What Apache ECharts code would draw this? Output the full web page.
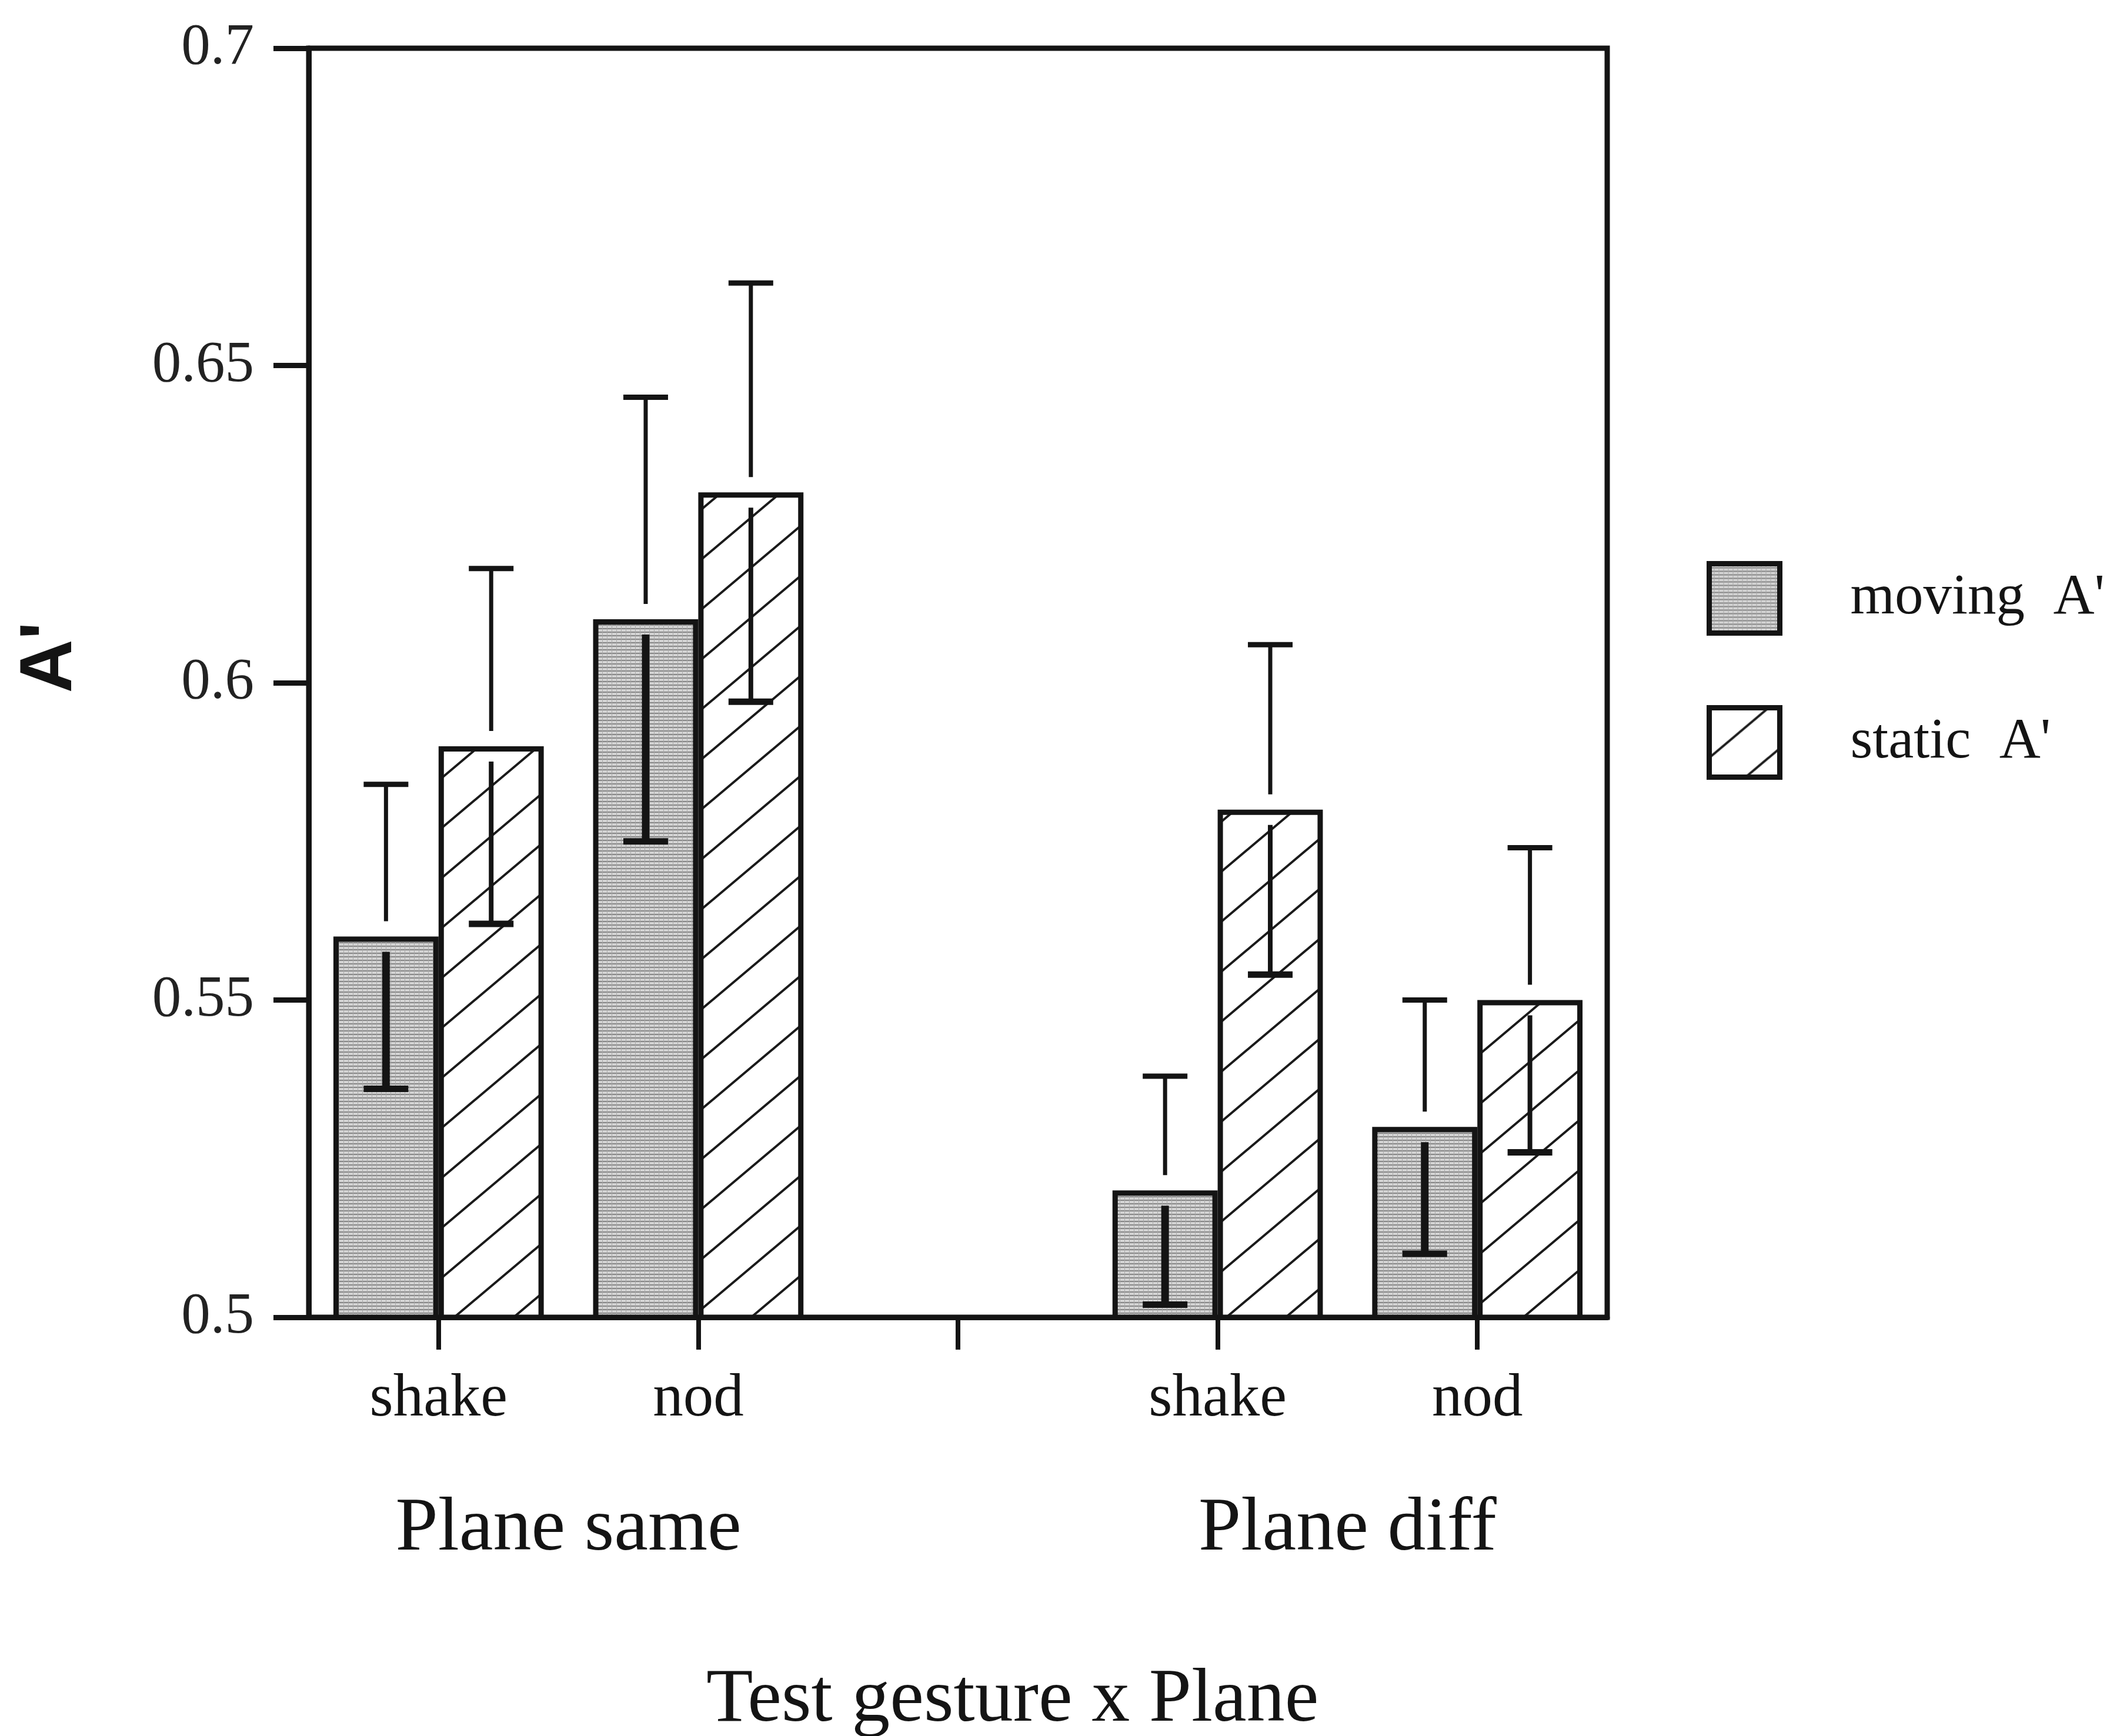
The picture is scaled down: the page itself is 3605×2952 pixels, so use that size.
<!DOCTYPE html>
<html>
<head>
<meta charset="utf-8">
<script src="https://cdn.jsdelivr.net/npm/echarts@6/dist/echarts.min.js"></script>
<style>
  html, body { margin: 0; padding: 0; background: #ffffff; }
  #chart { width: 3605px; height: 2952px; }
</style>
</head>
<body>
<div id="chart"></div>
<script>
// Test gesture (within plane condition); the empty slot separates the two planes
const gestures = ['shake', 'nod', '', 'shake', 'nod'];
const planeLabels = ['Plane same', 'Plane diff'];
const planePositions = [1, 4];
const yTickLabels = ['0.5', '0.55', '0.6', '0.65', '0.7'];

// Mean A' and error half-widths
const movingMean = [0.560, 0.610, null, 0.520, 0.530];
const movingErr  = [0.024, 0.035, null, 0.018, 0.020];
const staticMean = [0.590, 0.630, null, 0.580, 0.550];
const staticErr  = [0.028, 0.033, null, 0.026, 0.024];

const INK = '#141414';
const SERIF = '"Liberation Serif", "Times New Roman", serif';
const CAT_GAP = 0.19;

// Fine grey screen used for the "moving" bars
function makeScreen() {
  const c = document.createElement('canvas');
  c.width = 8; c.height = 6;
  const g = c.getContext('2d');
  g.fillStyle = '#d4d4d4'; g.fillRect(0, 0, 8, 6);
  g.fillStyle = '#868686'; g.fillRect(0, 0, 8, 2);
  g.fillStyle = '#a8a8a8'; g.fillRect(0, 0, 1, 6);
  return c;
}

// Diagonal hatching used for the "static" bars
function makeHatch() {
  const w = 101, h = 85;
  const c = document.createElement('canvas');
  c.width = w; c.height = h;
  const g = c.getContext('2d');
  g.fillStyle = '#ffffff'; g.fillRect(0, 0, w, h);
  g.strokeStyle = '#1a1a1a'; g.lineWidth = 4;
  for (const s of [-h, 0, h]) {
    g.beginPath();
    g.moveTo(-w, 2 * h + s);
    g.lineTo(2 * w, -h + s);
    g.stroke();
  }
  return c;
}

const screenFill = { image: makeScreen(), repeat: 'repeat' };
const hatchFill = { image: makeHatch(), repeat: 'repeat' };

// Error bars: thin whisker above the bar, heavier one inside it, broken at the bar top
function errorBars(name, mean, err, side, innerWidth) {
  const data = [];
  mean.forEach((m, i) => { if (m != null) data.push([i, m - err[i], m + err[i], m]); });
  return {
    type: 'custom',
    name: name,
    silent: true,
    z: 10,
    encode: { x: 0, y: [1, 2, 3] },
    data: data,
    renderItem: function (params, api) {
      const i = api.value(0);
      const catW = api.size([1, 0])[0];
      const barW = catW * (1 - CAT_GAP) / 2;
      const top = api.coord([i, api.value(3)]);
      const x = top[0] + side * barW / 2;
      const yTop = top[1];
      const yHi = api.coord([i, api.value(2)])[1];
      const yLo = api.coord([i, api.value(1)])[1];
      const gap = 26, cap = 38;
      const ln = (x1, y1, x2, y2, w) => ({
        type: 'line',
        shape: { x1: x1, y1: y1, x2: x2, y2: y2 },
        style: { stroke: INK, lineWidth: w }
      });
      return {
        type: 'group',
        children: [
          ln(x, yTop - gap, x, yHi, 7),
          ln(x - cap, yHi, x + cap, yHi, 9),
          ln(x, yTop + gap, x, yLo, innerWidth),
          ln(x - cap, yLo, x + cap, yLo, 11)
        ]
      };
    }
  };
}

const chart = echarts.init(document.getElementById('chart'), null, { renderer: 'canvas' });

chart.setOption({
  animation: false,
  backgroundColor: '#ffffff',
  grid: {
    left: 525, right: 872, top: 82, bottom: 712,
    show: true, borderColor: INK, borderWidth: 9, backgroundColor: 'transparent'
  },
  title: {
    text: 'Test gesture x Plane',
    left: 1196, top: 2822,
    textStyle: { fontFamily: SERIF, fontSize: 130, fontWeight: 'normal', color: INK }
  },
  legend: {
    data: ["moving A'", "static A'"],
    orient: 'vertical',
    left: 2897, top: 949,
    itemWidth: 120, itemHeight: 118, itemGap: 118,
    icon: 'rect',
    selectedMode: false,
    itemStyle: { borderColor: INK, borderWidth: 9 },
    formatter: function (name) { return name.replace(' ', '  '); },
    textStyle: { fontFamily: SERIF, fontSize: 97, color: INK, padding: [32, 0, 0, 115] }
  },
  xAxis: [
    {
      type: 'category',
      data: gestures,
      position: 'bottom',
      axisLine: { show: true, lineStyle: { color: INK, width: 9 } },
      axisTick: { show: true, alignWithLabel: true, interval: 0, length: 55, lineStyle: { color: INK, width: 8 } },
      axisLabel: { interval: 0, margin: 88, fontFamily: SERIF, fontSize: 103, color: INK },
      splitLine: { show: false }
    },
    {
      type: 'value',
      position: 'bottom',
      min: 0, max: 5, interval: 1,
      axisLine: { show: false },
      axisTick: { show: false },
      splitLine: { show: false },
      axisLabel: {
        margin: 296,
        fontFamily: SERIF, fontSize: 130, color: INK,
        formatter: function (v) {
          const k = planePositions.indexOf(v);
          return k >= 0 ? planeLabels[k] : '';
        }
      }
    }
  ],
  yAxis: {
    type: 'value',
    min: 0.5, max: 0.7, interval: 0.05,
    axisLine: { show: true, lineStyle: { color: INK, width: 9 } },
    axisTick: { show: true, length: 60, lineStyle: { color: INK, width: 9 } },
    axisLabel: {
      margin: 93, fontFamily: SERIF, fontSize: 99, color: '#222',
      formatter: function (v, idx) { return yTickLabels[idx]; }
    },
    splitLine: { show: false }
  },
  graphic: [
    {
      type: 'text',
      x: 86, y: 1118,
      rotation: Math.PI / 2,
      style: {
        text: "A'",
        font: 'bold 126px "Liberation Sans", Arial, sans-serif',
        fill: INK,
        textAlign: 'center',
        textVerticalAlign: 'middle'
      }
    }
  ],
  series: [
    {
      type: 'bar',
      name: "moving A'",
      data: movingMean,
      barGap: '0%',
      barCategoryGap: (CAT_GAP * 100) + '%',
      itemStyle: { color: screenFill, borderColor: INK, borderWidth: 9 }
    },
    {
      type: 'bar',
      name: "static A'",
      data: staticMean,
      itemStyle: { color: hatchFill, borderColor: INK, borderWidth: 9 }
    },
    errorBars("moving A' error", movingMean, movingErr, -1, 13),
    errorBars("static A' error", staticMean, staticErr, 1, 8)
  ]
});
</script>
</body>
</html>
